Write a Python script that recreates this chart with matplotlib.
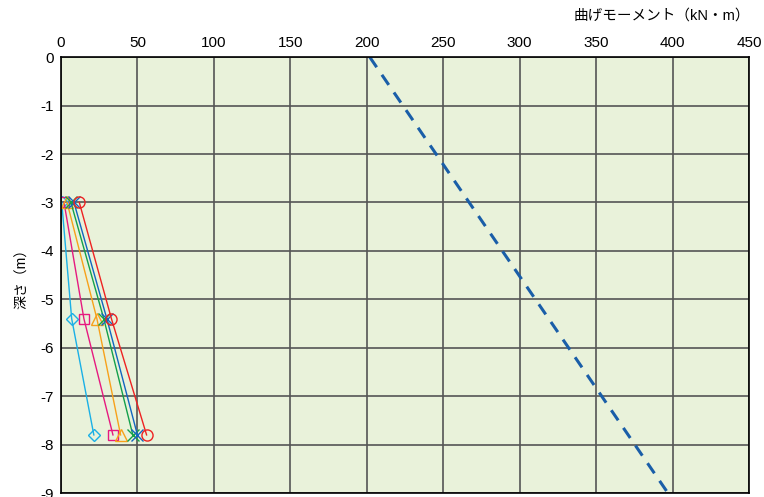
import matplotlib
matplotlib.use('Agg')
import matplotlib.pyplot as plt

plt.rcParams['font.family'] = ['Liberation Sans', 'Noto Sans CJK JP', 'DejaVu Sans']

# depths (m) and bending moments (kN·m) per case
depth = [-3.0, -5.4, -7.8]
case_diamond = [0.5, 7, 21.5]
case_square = [2, 15, 34]
case_triangle = [4, 23.5, 39]
case_x_green = [6.5, 28, 47]
case_x_blue = [8.5, 30, 50]
case_circle = [12, 33, 56]

# allowable moment line
limit_depth = [0, -9]
limit_moment = [202, 397]

series = [
    (case_diamond, '#1ab0e6', 'D', 6),
    (case_square, '#e6197f', 's', 7),
    (case_triangle, '#f7a11a', '^', 8),
    (case_x_green, '#13a04a', 'x', 8),
    (case_x_blue, '#1166c0', 'x', 8),
    (case_circle, '#ee2222', 'o', 8),
]

fig = plt.figure(figsize=(7.64, 4.97), dpi=100)
ax = fig.add_axes([0.0798, 0.008, 0.9005, 0.877])
ax.set_facecolor('#e9f2da')

for vals, col, mk, ms in series:
    ax.plot(vals, depth, color=col, lw=1.0, marker=mk, ms=ms,
            mfc='none', mec=col, mew=1.0)

ax.plot(limit_moment, limit_depth, color='#1a5ea8', lw=2.2, ls=(0, (4, 3)))

ax.set_xlim(0, 450)
ax.set_ylim(-9, 0)
ax.set_xticks(range(0, 451, 50))
ax.set_yticks(range(-9, 1))
ax.set_yticklabels([str(v) for v in range(-9, 1)])
ax.xaxis.tick_top()
ax.tick_params(axis='both', labelsize=11, length=0, pad=5)
ax.grid(True, color='#555555', lw=1.2)
ax.set_axisbelow(True)
for s in ax.spines.values():
    s.set_color('black')
    s.set_linewidth(1.2)

ax.set_ylabel('深さ（m）', fontsize=10, labelpad=8)
fig.text(0.982, 0.968, '曲げモーメント（kN・m）', ha='right', va='center', fontsize=10.5)

fig.savefig('out.png', dpi=100)
